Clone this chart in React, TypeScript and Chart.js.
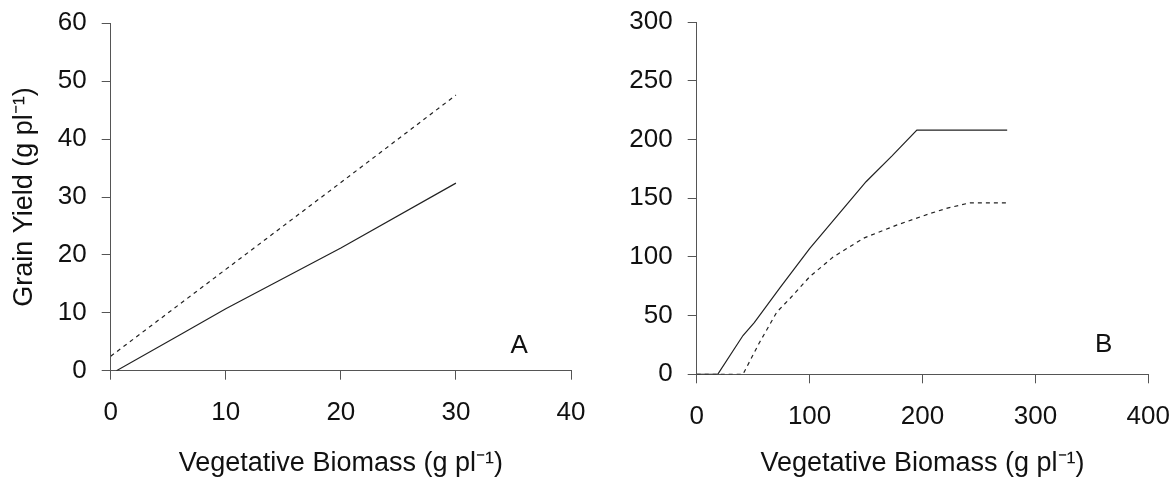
import React, { useEffect, useRef } from "react";
import { Chart, registerables } from "chart.js";

Chart.register(...registerables);

const FONT = "'Liberation Sans', Arial, Helvetica, sans-serif";

// ---------- Panel A ----------
const aXTicks = [0, 10, 20, 30, 40];
const aYTicks = [0, 10, 20, 30, 40, 50, 60];
const aSolidX = [0.5, 6.3, 10, 20, 30];
const aSolidY = [0, 6.5, 10.7, 21.2, 32.4];
const aDashX = [0, 10, 20, 30];
const aDashY = [2.5, 17.5, 32.5, 47.6];

// ---------- Panel B ----------
const bXTicks = [0, 100, 200, 300, 400];
const bYTicks = [0, 50, 100, 150, 200, 250, 300];
const bSolidX = [0, 18.6, 41, 51, 74, 100, 150, 173, 195, 275];
const bSolidY = [0, 0, 33, 44, 74, 107, 164, 186, 208, 208];
const bDashX = [0, 41, 55, 71, 83, 100, 121, 148, 177, 207, 222, 242, 274];
const bDashY = [0, 0, 26, 53, 65, 83, 100, 116, 127, 137, 141.5, 146, 146];

const xTitle = "Vegetative Biomass (g pl\u207B\u00B9)";
const yTitle = "Grain Yield (g pl\u207B\u00B9)";

const zip = (xs: number[], ys: number[]) => xs.map((x, i) => ({ x, y: ys[i] }));

type PanelProps = {
  left: number;
  width: number;
  yAxisWidth: number;
  padTop: number;
  padRight: number;
  xAxisHeight: number;
  xTicks: number[];
  yTicks: number[];
  solid: { x: number; y: number }[];
  dashed: { x: number; y: number }[];
  letter: string;
  letterAt: [number, number];
  showYTitle: boolean;
};

function zeroPad(s: any) {
  s.paddingLeft = 0;
  s.paddingRight = 0;
  s.paddingTop = 0;
  s.paddingBottom = 0;
}

function Panel(p: PanelProps) {
  const ref = useRef<HTMLCanvasElement | null>(null);
  useEffect(() => {
    if (!ref.current) return;
    const lineColor = "#222";
    const axisColor = "#555";
    const letterPlugin = {
      id: "letter" + p.letter,
      afterDraw(chart: any) {
        const ctx = chart.ctx;
        const xs = chart.scales.x;
        const ys = chart.scales.y;
        ctx.save();
        ctx.fillStyle = "#111";
        ctx.font = `26px ${FONT}`;
        ctx.textAlign = "center";
        ctx.textBaseline = "middle";
        ctx.fillText(p.letter, xs.getPixelForValue(p.letterAt[0]), ys.getPixelForValue(p.letterAt[1]));
        ctx.restore();
      },
    };
    const chart = new Chart(ref.current, {
      type: "scatter",
      data: {
        datasets: [
          {
            data: p.solid,
            showLine: true,
            borderColor: lineColor,
            borderWidth: 1.2,
            pointRadius: 0,
            fill: false,
            tension: 0,
          },
          {
            data: p.dashed,
            showLine: true,
            borderColor: lineColor,
            borderWidth: 1.2,
            borderDash: [4, 4],
            pointRadius: 0,
            fill: false,
            tension: 0,
          },
        ],
      },
      options: {
        animation: false,
        responsive: false,
        maintainAspectRatio: false,
        devicePixelRatio: 1,
        layout: { padding: { left: 0, top: p.padTop, right: p.padRight, bottom: 0 } },
        plugins: { legend: { display: false }, tooltip: { enabled: false } },
        scales: {
          x: {
            type: "linear",
            min: p.xTicks[0],
            max: p.xTicks[p.xTicks.length - 1],
            afterBuildTicks: (s: any) => {
              s.ticks = p.xTicks.map((v) => ({ value: v }));
            },
            afterFit: (s: any) => {
              s.height = p.xAxisHeight;
              zeroPad(s);
            },
            grid: { display: true, drawOnChartArea: false, drawTicks: true, tickLength: 9, color: axisColor, lineWidth: 1 },
            border: { display: true, color: axisColor, width: 1 },
            ticks: { color: "#111", font: { family: FONT, size: 26 }, padding: 18, maxRotation: 0 },
            title: {
              display: true,
              text: xTitle,
              color: "#111",
              font: { family: FONT, size: 27 },
              padding: { top: 0, bottom: 1 },
            },
          },
          y: {
            type: "linear",
            min: p.yTicks[0],
            max: p.yTicks[p.yTicks.length - 1],
            afterBuildTicks: (s: any) => {
              s.ticks = p.yTicks.map((v) => ({ value: v }));
            },
            afterFit: (s: any) => {
              s.width = p.yAxisWidth;
              zeroPad(s);
            },
            grid: { display: true, drawOnChartArea: false, drawTicks: true, tickLength: 9, color: axisColor, lineWidth: 1 },
            border: { display: true, color: axisColor, width: 1 },
            ticks: { color: "#111", font: { family: FONT, size: 26 }, padding: 15 },
            title: {
              display: p.showYTitle,
              text: yTitle,
              color: "#111",
              font: { family: FONT, size: 27 },
              padding: { top: 8, bottom: 0 },
            },
          },
        },
      },
      plugins: [letterPlugin],
    } as any);
    return () => chart.destroy();
  }, []);
  return (
    <canvas
      ref={ref}
      width={p.width}
      height={481}
      style={{ position: "absolute", left: p.left, top: 0, width: p.width, height: 481 }}
    />
  );
}

export default function App() {
  return (
    <div style={{ position: "absolute", left: 0, top: 0, width: 1175, height: 481, background: "#fff", overflow: "hidden" }}>
      <Panel
        left={0}
        width={590}
        yAxisWidth={110.7}
        padTop={23.3}
        padRight={19}
        xAxisHeight={110.3}
        xTicks={aXTicks}
        yTicks={aYTicks}
        solid={zip(aSolidX, aSolidY)}
        dashed={zip(aDashX, aDashY)}
        letter="A"
        letterAt={[35.5, 4.3]}
        showYTitle={true}
      />
      <Panel
        left={590}
        width={585}
        yAxisWidth={106.7}
        padTop={22}
        padRight={26.7}
        xAxisHeight={106.7}
        xTicks={bXTicks}
        yTicks={bYTicks}
        solid={zip(bSolidX, bSolidY)}
        dashed={zip(bDashX, bDashY)}
        letter="B"
        letterAt={[360.5, 25]}
        showYTitle={false}
      />
    </div>
  );
}
